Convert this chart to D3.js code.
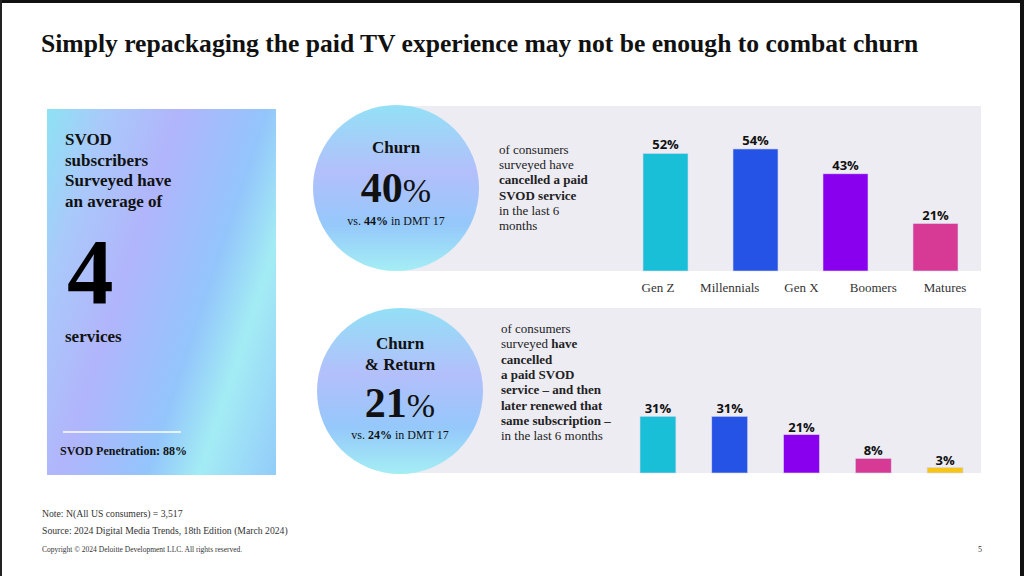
<!DOCTYPE html>
<html>
<head>
<meta charset="utf-8">
<script src="https://cdn.jsdelivr.net/npm/d3@7"></script>
<style>
  html, body { margin: 0; padding: 0; background: #fff; }
  svg { display: block; }
  .serif { font-family: "Liberation Serif", "Times New Roman", serif; }
  .val { font-family: "Open Sans", sans-serif; font-weight: 700; font-size: 13px; fill: #111; }
</style>
</head>
<body>
<div id="chart"></div>
<script>
var generations = ["Gen Z", "Millennials", "Gen X", "Boomers", "Matures"];
var churnCategories = ["Gen Z", "Millennials", "Gen X", "Boomers"];
var churnValues = [52, 54, 43, 21];
var returnValues = [31, 31, 21, 8, 3];
var barColors = ["#19bfd6", "#2553e6", "#8800ee", "#d63a94", "#f5c518"];

var width = 1024, height = 576;

var svg = d3.select("#chart").append("svg")
  .attr("width", width)
  .attr("height", height);

var defs = svg.append("defs");

// soft holographic gradient of the left card
var cardGrad = defs.append("linearGradient")
  .attr("id", "cardGrad")
  .attr("gradientUnits", "userSpaceOnUse")
  .attr("x1", 47).attr("y1", 109).attr("x2", 363).attr("y2", 214);
[[0, "#8ee2f4"], [0.17, "#a9c9fa"], [0.38, "#b1b5fb"], [0.63, "#93c5fb"],
 [0.78, "#a3ecf4"], [0.94, "#98d4f9"], [1, "#90cdf8"]].forEach(function(s) {
  cardGrad.append("stop").attr("offset", s[0]).attr("stop-color", s[1]);
});

var circGrad = defs.append("linearGradient")
  .attr("id", "circGrad")
  .attr("x1", 0).attr("y1", 0).attr("x2", 0).attr("y2", 1);
[[0, "#93e0f6"], [0.4, "#b3bffb"], [0.72, "#95c8fb"], [1, "#a4eef4"]].forEach(function(s) {
  circGrad.append("stop").attr("offset", s[0]).attr("stop-color", s[1]);
});

// frame
svg.append("rect").attr("x", 0).attr("y", 0).attr("width", width).attr("height", 3).attr("fill", "#111");
svg.append("rect").attr("x", 0).attr("y", 0).attr("width", 2).attr("height", height).attr("fill", "#222");
svg.append("rect").attr("x", 1020).attr("y", 0).attr("width", 4).attr("height", height).attr("fill", "#111");

svg.append("text").attr("class", "serif")
  .attr("x", 41).attr("y", 52)
  .style("font-size", "25.6px").style("font-weight", "700").attr("fill", "#111")
  .text("Simply repackaging the paid TV experience may not be enough to combat churn");

// left card
svg.append("rect").attr("x", 47).attr("y", 109).attr("width", 229).attr("height", 366)
  .attr("fill", "url(#cardGrad)");

var cardLines = ["SVOD", "subscribers", "Surveyed have", "an average of"];
svg.append("g").selectAll("text").data(cardLines).enter().append("text")
  .attr("class", "serif")
  .attr("x", 65).attr("y", function(d, i) { return 145 + i * 20.7; })
  .style("font-size", "17px").style("font-weight", "700").attr("fill", "#111")
  .text(function(d) { return d; });

svg.append("text").attr("class", "serif")
  .attr("x", 67).attr("y", 303)
  .style("font-size", "93px").style("font-weight", "700").attr("fill", "#000")
  .text("4");

svg.append("text").attr("class", "serif")
  .attr("x", 65).attr("y", 342)
  .style("font-size", "17px").style("font-weight", "700").attr("fill", "#111")
  .text("services");

svg.append("line").attr("x1", 63).attr("x2", 181).attr("y1", 432).attr("y2", 432)
  .attr("stroke", "#fff").attr("stroke-width", 1.5);

svg.append("text").attr("class", "serif")
  .attr("x", 60).attr("y", 455)
  .style("font-size", "12px").style("font-weight", "700").attr("fill", "#111")
  .text("SVOD Penetration: 88%");

// gray panels
svg.append("rect").attr("x", 400).attr("y", 106).attr("width", 581).attr("height", 165).attr("fill", "#edecf2");
svg.append("rect").attr("x", 400).attr("y", 308).attr("width", 581).attr("height", 165).attr("fill", "#edecf2");

// circles
function statCircle(cx, cy, heads, big, prev) {
  var g = svg.append("g").attr("class", "serif");
  g.append("circle").attr("cx", cx).attr("cy", cy).attr("r", 83).attr("fill", "url(#circGrad)");
  heads.forEach(function(h, i) {
    g.append("text").attr("x", cx).attr("y", h.y).attr("text-anchor", "middle")
      .style("font-size", "17px").style("font-weight", "700").attr("fill", "#111")
      .text(h.t);
  });
  var t = g.append("text").attr("x", cx).attr("y", big.y).attr("text-anchor", "middle").attr("fill", "#111");
  t.append("tspan").style("font-size", "42px").style("font-weight", "700").text(big.t);
  t.append("tspan").style("font-size", "34px").style("font-weight", "400").text("%");
  var p = g.append("text").attr("x", cx).attr("y", prev.y).attr("text-anchor", "middle")
    .style("font-size", "12px").attr("fill", "#111");
  p.append("tspan").text("vs. ");
  p.append("tspan").style("font-weight", "700").text(prev.t);
  p.append("tspan").text(" in DMT 17");
}

statCircle(396, 188, [{t: "Churn", y: 153}], {t: "40", y: 202}, {t: "44%", y: 225});
statCircle(400, 391, [{t: "Churn", y: 349}, {t: "& Return", y: 370}], {t: "21", y: 417}, {t: "24%", y: 439});

// descriptive text
function para(x, y0, step, lines) {
  var g = svg.append("g").attr("class", "serif");
  lines.forEach(function(parts, i) {
    var t = g.append("text").attr("x", x).attr("y", y0 + i * step)
      .style("font-size", "13px").attr("fill", "#222");
    parts.forEach(function(p) {
      t.append("tspan").style("font-weight", p[1] ? "700" : "400").text(p[0]);
    });
  });
}

para(499, 154, 15.2, [
  [["of consumers", 0]],
  [["surveyed have", 0]],
  [["cancelled a paid", 1]],
  [["SVOD service", 1]],
  [["in the last 6", 0]],
  [["months", 0]]
]);

para(501, 333, 15.3, [
  [["of consumers", 0]],
  [["surveyed ", 0], ["have", 1]],
  [["cancelled", 1]],
  [["a paid SVOD", 1]],
  [["service \u2013 and then", 1]],
  [["later renewed that", 1]],
  [["same subscription \u2013", 1]],
  [["in the last 6 months", 0]]
]);

// top bar chart: churn by generation
var xTop = d3.scaleBand().domain(churnCategories).range([643, 958]).paddingInner(0.5).paddingOuter(0);
var yTop = d3.scaleLinear().domain([0, 60]).range([271, 135.4]);

var gTop = svg.append("g");
gTop.selectAll("rect").data(churnValues).enter().append("rect")
  .attr("x", function(d, i) { return xTop(churnCategories[i]); })
  .attr("y", function(d) { return yTop(d); })
  .attr("width", xTop.bandwidth())
  .attr("height", function(d) { return yTop(0) - yTop(d); })
  .attr("fill", function(d, i) { return barColors[i]; })
  .attr("stroke", "#d8d6ee").attr("stroke-width", 0.6);
gTop.selectAll("text").data(churnValues).enter().append("text")
  .attr("class", "val")
  .attr("x", function(d, i) { return xTop(churnCategories[i]) + xTop.bandwidth() / 2; })
  .attr("y", function(d) { return yTop(d) - 4; })
  .attr("text-anchor", "middle")
  .text(function(d) { return d + "%"; });

// bottom bar chart: churn & return by generation
var xBot = d3.scaleBand().domain(generations).range([640, 963]).paddingInner(0.5).paddingOuter(0);
var yBot = d3.scaleLinear().domain([0, 35]).range([473, 409]);

var gBot = svg.append("g");
gBot.selectAll("rect").data(returnValues).enter().append("rect")
  .attr("x", function(d, i) { return xBot(generations[i]); })
  .attr("y", function(d) { return yBot(d); })
  .attr("width", xBot.bandwidth())
  .attr("height", function(d) { return yBot(0) - yBot(d); })
  .attr("fill", function(d, i) { return barColors[i]; })
  .attr("stroke", "#d8d6ee").attr("stroke-width", 0.6);
gBot.selectAll("text").data(returnValues).enter().append("text")
  .attr("class", "val")
  .attr("x", function(d, i) { return xBot(generations[i]) + xBot.bandwidth() / 2; })
  .attr("y", function(d) { return yBot(d) - 3; })
  .attr("text-anchor", "middle")
  .text(function(d) { return d + "%"; });

// generation labels sit under the top panel, on the bottom chart's grid
svg.append("g").selectAll("text").data(generations).enter().append("text")
  .attr("class", "serif")
  .attr("x", function(d) { return xBot(d) + xBot.bandwidth() / 2; })
  .attr("y", 292)
  .attr("text-anchor", "middle")
  .style("font-size", "13px").attr("fill", "#333")
  .text(function(d) { return d; });

// footer
var foot = svg.append("g").attr("class", "serif").attr("fill", "#333");
foot.append("text").attr("x", 42).attr("y", 517).style("font-size", "9.7px")
  .text("Note: N(All US consumers) = 3,517");
foot.append("text").attr("x", 42).attr("y", 534).style("font-size", "9.7px")
  .text("Source: 2024 Digital Media Trends, 18th Edition (March 2024)");
foot.append("text").attr("x", 42).attr("y", 552).style("font-size", "7.5px")
  .text("Copyright \u00a9 2024 Deloitte Development LLC. All rights reserved.");
foot.append("text").attr("x", 978).attr("y", 552).style("font-size", "8px")
  .text("5");
</script>
</body>
</html>
